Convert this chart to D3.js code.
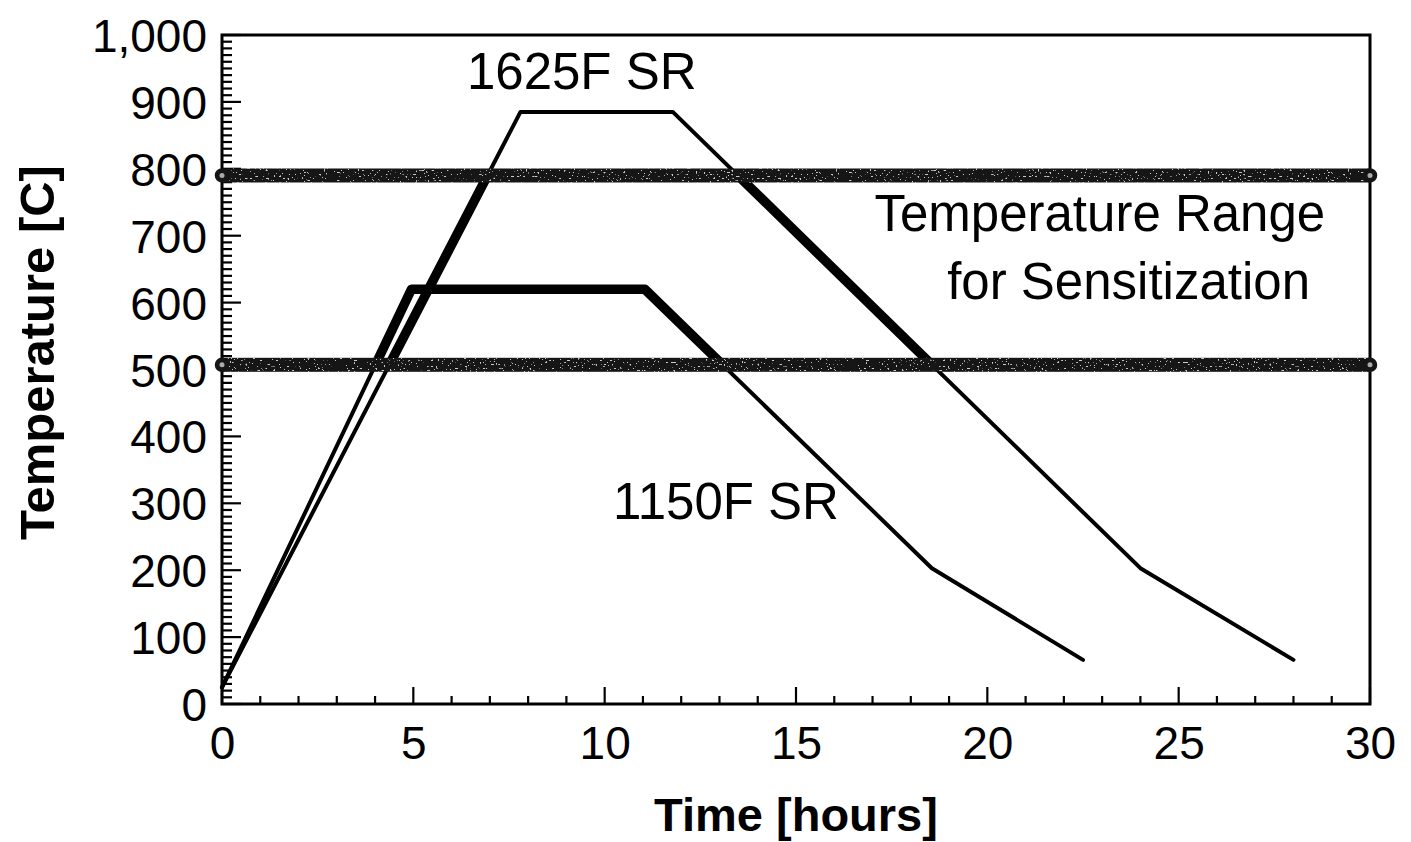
<!DOCTYPE html>
<html>
<head>
<meta charset="utf-8">
<script src="https://cdn.jsdelivr.net/npm/d3@7"></script>
<style>
  html, body { margin: 0; padding: 0; background: #fff; }
  svg { display: block; font-family: "Liberation Sans", Arial, sans-serif; }
</style>
</head>
<body>
<svg id="chart" width="1411" height="842"></svg>
<script>
// ---- Data ----
const time1625 = [0, 7.8, 11.78, 24.0, 28.0];
const temp1625 = [25, 885, 885, 203, 66];
const time1150 = [0, 4.95, 11.05, 18.55, 22.5];
const temp1150 = [25, 620, 620, 203, 66];
const sensitizationRange = [507, 790];
const xTicks = [0, 5, 10, 15, 20, 25, 30];
const yTicks = [0, 100, 200, 300, 400, 500, 600, 700, 800, 900, 1000];
const annotations = [
  { text: "1625F SR", t: 6.4, T: 920 },
  { text: "1150F SR", t: 10.22, T: 277 },
  { text: "Temperature Range", t: 17.05, T: 707 },
  { text: "for Sensitization", t: 18.95, T: 605 }
];

// ---- Layout ----
const svg = d3.select("#chart");
const x = d3.scaleLinear().domain([0, 30]).range([222, 1370]);
const y = d3.scaleLinear().domain([0, 1000]).range([704, 35]);

const defs = svg.append("defs");
defs.append("clipPath").attr("id", "rangeClip")
  .append("rect")
  .attr("x", x(0)).attr("width", x(30) - x(0))
  .attr("y", y(sensitizationRange[1]))
  .attr("height", y(sensitizationRange[0]) - y(sensitizationRange[1]));

// speckle filter for bands (user space so thin shapes work)
const f = defs.append("filter").attr("id", "speckle")
  .attr("filterUnits", "userSpaceOnUse")
  .attr("x", 0).attr("y", 0).attr("width", 1411).attr("height", 842);
f.append("feTurbulence").attr("type", "fractalNoise").attr("baseFrequency", "0.5").attr("numOctaves", 2).attr("seed", 7).attr("result", "noise");
f.append("feColorMatrix").attr("in", "noise").attr("type", "matrix")
  .attr("values", "0 0 0 0 0.6  0 0 0 0 0.6  0 0 0 0 0.6  -30 0 0 0 9.6").attr("result", "spots");
f.append("feComposite").attr("in", "spots").attr("in2", "SourceGraphic").attr("operator", "in").attr("result", "spotsIn");
f.append("feMerge").call(m => { m.append("feMergeNode").attr("in", "SourceGraphic"); m.append("feMergeNode").attr("in", "spotsIn"); });

// ---- Axes ----
const yMinor = d3.range(0, 1001, 10);
const xMinor = d3.range(0, 31, 1);

const gy = svg.append("g").attr("transform", `translate(${x(0)},0)`);
gy.call(d3.axisLeft(y).tickValues(yTicks).tickFormat(d3.format(",")).tickSize(0).tickPadding(15));
gy.select(".domain").remove();
gy.selectAll("text").attr("font-size", 46).attr("fill", "#000").attr("font-family", "Liberation Sans, Arial, sans-serif").attr("dy", "0.36em");
gy.selectAll(".minor").data(yMinor).enter().append("line")
  .attr("x1", 0).attr("x2", d => d % 100 === 0 ? 19 : 10)
  .attr("y1", d => y(d)).attr("y2", d => y(d))
  .attr("stroke", "#000").attr("stroke-width", 2.2);

const gx = svg.append("g").attr("transform", `translate(0,${y(0)})`);
gx.call(d3.axisBottom(x).tickValues(xTicks).tickSize(0).tickPadding(22));
gx.select(".domain").remove();
gx.selectAll("text").attr("font-size", 46).attr("fill", "#000").attr("font-family", "Liberation Sans, Arial, sans-serif").attr("dy", "0.71em");
gx.selectAll(".minor").data(xMinor).enter().append("line")
  .attr("x1", d => x(d)).attr("x2", d => x(d))
  .attr("y1", 0).attr("y2", d => d % 5 === 0 ? -17 : -8)
  .attr("stroke", "#000").attr("stroke-width", 2.2);

// frame
svg.append("rect")
  .attr("x", x(0)).attr("y", y(1000))
  .attr("width", x(30) - x(0)).attr("height", y(0) - y(1000))
  .attr("fill", "none").attr("stroke", "#000").attr("stroke-width", 3);

// ---- Curves ----
const line = d3.line().x(d => x(d[0])).y(d => y(d[1]));
const series = [d3.zip(time1625, temp1625), d3.zip(time1150, temp1150)];
const curves = svg.append("g");
series.forEach(s => {
  curves.append("path").attr("d", line(s))
    .attr("fill", "none").attr("stroke", "#000").attr("stroke-width", 4)
    .attr("stroke-linejoin", "round").attr("stroke-linecap", "round");
  curves.append("path").attr("d", line(s))
    .attr("clip-path", "url(#rangeClip)")
    .attr("fill", "none").attr("stroke", "#000").attr("stroke-width", 9.5)
    .attr("stroke-linejoin", "round");
});

// ---- Sensitization bands ----
const bands = svg.append("g");
sensitizationRange.forEach(v => {
  bands.append("rect")
    .attr("x", x(0)).attr("width", x(30) - x(0))
    .attr("y", y(v) - 7).attr("height", 14)
    .attr("fill", "#161616")
    .attr("filter", "url(#speckle)");
  [0, 30].forEach(t => {
    bands.append("circle")
      .attr("cx", x(t)).attr("cy", y(v)).attr("r", 6.5)
      .attr("fill", "#161616").attr("stroke", "#161616").attr("stroke-width", 1.5);
    bands.append("circle")
      .attr("cx", x(t)).attr("cy", y(v)).attr("r", 2.5)
      .attr("fill", "#aaa");
  });
});

// ---- Annotations ----
svg.append("g").selectAll("text").data(annotations).enter().append("text")
  .attr("x", d => x(d.t)).attr("y", d => y(d.T))
  .attr("font-size", 51).attr("fill", "#000")
  .text(d => d.text);

// ---- Axis titles ----
svg.append("text")
  .attr("x", (x(0) + x(30)) / 2).attr("y", 831)
  .attr("text-anchor", "middle").attr("font-size", 47).attr("font-weight", "bold")
  .text("Time [hours]");
svg.append("text")
  .attr("transform", `translate(54,${(y(0) + y(1000)) / 2 - 17}) rotate(-90)`)
  .attr("text-anchor", "middle").attr("font-size", 49).attr("font-weight", "bold")
  .text("Temperature [C]");
</script>
</body>
</html>
